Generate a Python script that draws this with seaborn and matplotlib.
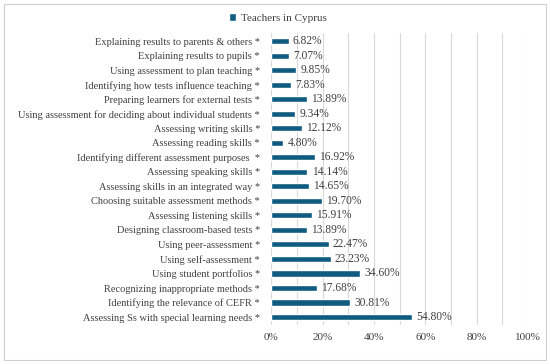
import pandas as pd
import matplotlib.pyplot as plt
import seaborn as sns
from matplotlib.patches import Rectangle, Patch
from matplotlib.ticker import MultipleLocator, FuncFormatter

sns.set_style('white')
plt.rcParams['font.family'] = ['Liberation Serif', 'DejaVu Serif']

# data (top to bottom)
skills = [
    "Explaining results to parents & others *",
    "Explaining results to pupils *",
    "Using assessment to plan teaching *",
    "Identifying how tests influence teaching *",
    "Preparing learners for external tests *",
    "Using assessment for deciding about individual students *",
    "Assessing writing skills *",
    "Assessing reading skills *",
    "Identifying different assessment purposes  *",
    "Assessing speaking skills *",
    "Assessing skills in an integrated way *",
    "Choosing suitable assessment methods *",
    "Assessing listening skills *",
    "Designing classroom-based tests *",
    "Using peer-assessment *",
    "Using self-assessment *",
    "Using student portfolios *",
    "Recognizing inappropriate methods *",
    "Identifying the relevance of CEFR *",
    "Assessing Ss with special learning needs *",
]
cyprus = [6.82, 7.07, 9.85, 7.83, 13.89, 9.34, 12.12, 4.80, 16.92, 14.14,
          14.65, 19.70, 15.91, 13.89, 22.47, 23.23, 34.60, 17.68, 30.81, 54.80]
series_name = "Teachers in Cyprus"

BAR_COLOR = '#0F5C80'
TEXT_COLOR = '#404040'

df = pd.DataFrame({'skill': skills, 'pct': cyprus})

fig = plt.figure(figsize=(5.5, 3.64), dpi=100)
fig.patches.append(Rectangle((0.008, 0.012), 0.984, 0.976, transform=fig.transFigure,
                             fill=False, edgecolor='#d0d0d0', linewidth=0.8))
ax = fig.add_axes([0.493, 0.107, 0.467, 0.802])

sns.barplot(data=df, y='skill', x='pct', color=BAR_COLOR, saturation=1,
            orient='h', width=0.42, ax=ax, zorder=3)

ax.set_xlim(0, 100)
ax.set_ylim(len(skills) - 0.45, -0.55)
ax.xaxis.set_major_locator(MultipleLocator(20))
ax.xaxis.set_minor_locator(MultipleLocator(10))
ax.xaxis.set_major_formatter(FuncFormatter(lambda v, p: f"{v:.0f}%"))
ax.grid(axis='x', which='both', color='#d9d9d9', linewidth=0.8, zorder=0)
ax.set_axisbelow(True)
for s in ax.spines.values():
    s.set_visible(False)
ax.set_xlabel('')
ax.set_ylabel('')
ax.tick_params(axis='x', length=0, labelsize=8, labelcolor=TEXT_COLOR, pad=6)
ax.tick_params(axis='y', length=0, labelsize=7.5, labelcolor=TEXT_COLOR, pad=8)

for i, v in enumerate(cyprus):
    ax.text(v + 1.6, i, f"{v:.2f}%", va='center', ha='left', fontsize=8.3, color=TEXT_COLOR)

fig.legend(handles=[Patch(facecolor=BAR_COLOR, label=series_name)],
           loc='center', bbox_to_anchor=(0.505, 0.95),
           frameon=False, fontsize=8, handlelength=0.7, handleheight=0.7, handletextpad=0.4,
           labelcolor=TEXT_COLOR)

fig.savefig('out.png', dpi=100)
